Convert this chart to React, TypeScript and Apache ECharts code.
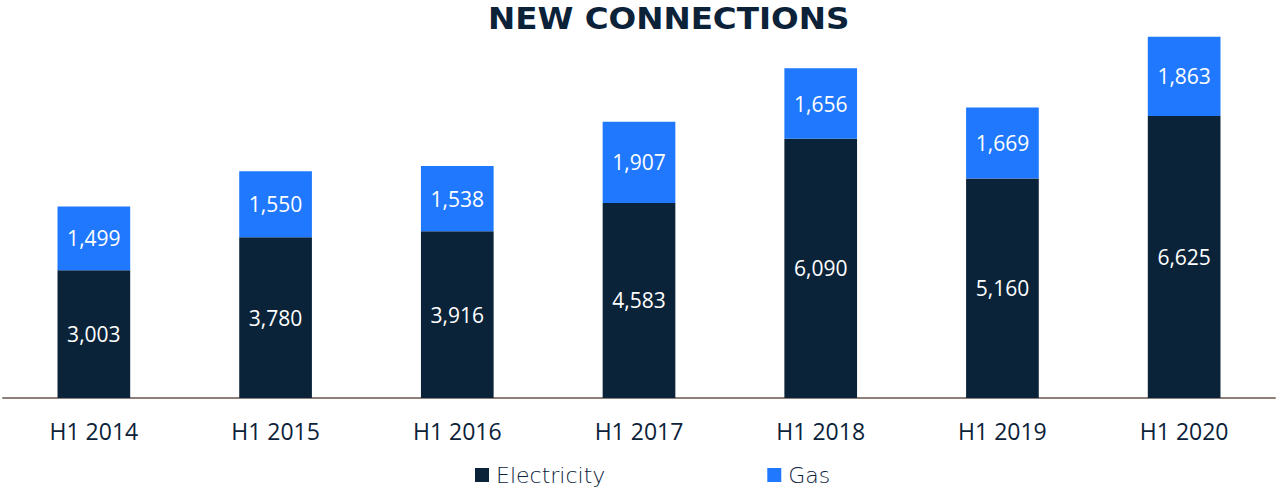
import React, { useEffect, useRef } from "react";
import * as echarts from "echarts";

const categories = ["H1 2014", "H1 2015", "H1 2016", "H1 2017", "H1 2018", "H1 2019", "H1 2020"];
const electricity = [3003, 3780, 3916, 4583, 6090, 5160, 6625];
const gas = [1499, 1550, 1538, 1907, 1656, 1669, 1863];
const titleText = "NEW CONNECTIONS";

export default function App() {
  const ref = useRef<HTMLDivElement>(null);
  useEffect(() => {
    if (!ref.current) return;
    const chart = echarts.init(ref.current, undefined, { renderer: "svg" });
    const labelStyle = {
      show: true,
      position: "inside",
      color: "#ffffff",
      fontFamily: "Open Sans",
      fontSize: 21,
      formatter: (p: any) => p.value.toLocaleString("en-US"),
    };
    chart.setOption({
      animation: false,
      backgroundColor: "#ffffff",
      graphic: [
        {
          type: "text",
          left: 488,
          top: 3,
          scaleX: 1.05,
          style: {
            text: titleText,
            fontFamily: "DejaVu Sans",
            fontWeight: "bold",
            fontSize: 31,
            fill: "#0b2239",
          },
        },
      ],
      legend: {
        top: 459,
        left: 470,
        itemWidth: 14,
        itemHeight: 14,
        itemGap: 162,
        icon: "rect",
        textStyle: {
          fontFamily: "DejaVu Sans",
          fontSize: 22,
          color: "#0b2239",
          fontWeight: 200,
          padding: [0, 0, 0, 2],
        },
        data: ["Electricity", "Gas"],
      },
      grid: { left: 3, right: 6, top: 15, bottom: 93, containLabel: false },
      xAxis: {
        type: "category",
        data: categories,
        axisLine: { lineStyle: { color: "#8e7f79", width: 2 } },
        axisTick: { show: false },
        axisLabel: { fontFamily: "Open Sans", fontSize: 23, color: "#0b2239", margin: 21 },
      },
      yAxis: { type: "value", min: 0, max: 9000, show: false, splitLine: { show: false } },
      series: [
        {
          name: "Electricity",
          type: "bar",
          stack: "total",
          data: electricity,
          barWidth: "40%",
          itemStyle: { color: "#0a2339" },
          label: labelStyle,
        },
        {
          name: "Gas",
          type: "bar",
          stack: "total",
          data: gas,
          barWidth: "40%",
          itemStyle: { color: "#1f78fe" },
          label: labelStyle,
        },
      ],
    });
    return () => chart.dispose();
  }, []);
  return <div ref={ref} style={{ width: 1281, height: 491, position: "absolute", left: 0, top: 0 }} />;
}
